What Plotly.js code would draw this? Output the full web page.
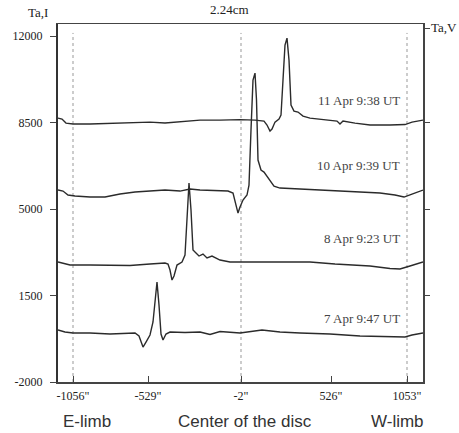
<!DOCTYPE html>
<html><head><meta charset="utf-8">
<script src="https://cdn.plot.ly/plotly-3.0.1.min.js"></script>
<style>html,body{margin:0;padding:0;background:#fff}</style>
</head><body><div id="chart" style="width:459px;height:433px"></div>
<script>
// scan position (arbitrary scan units) for each sample
const x11 = [0,4,8,15,32,52,72,92,107,122,142,162,182,197,206,209,212,214,217,221,223,225,227,229,231,233,236,240,245,252,262,272,279,282,285,297,312,332,347,354,365];
const ta11 = [8682,8641,8480,8440,8440,8460,8480,8520,8480,8540,8600,8600,8620,8600,8560,8400,8155,8236,8520,8640,8800,10220,11640,11920,11030,9210,8965,8925,8760,8680,8640,8600,8560,8440,8560,8480,8400,8400,8420,8520,8600];
const x10 = [0,5,10,17,32,47,62,77,92,107,122,132,142,157,170,175,178,180,182,185,189,191,193,195,197,198.5,200,203,206,209,212,216,222,242,262,282,302,322,337,346,354,365];
const ta10 = [5769,5728,5567,5526,5486,5486,5607,5688,5728,5769,5728,5809,5769,5749,5728,5648,5162,4838,5081,5364,5567,5971,8197,10220,10504,9411,6983,6578,6497,6335,6133,5931,5850,5809,5769,5749,5708,5648,5567,5486,5607,5769];
const x8 = [0,5,12,32,52,72,92,107,110,112,114,116,119,124,127,129,131,133,135,138,141,145,149,154,162,172,192,222,252,277,292,312,332,342,352,365];
const ta8 = [2856,2815,2734,2734,2734,2714,2775,2815,2775,2532,2127,2289,2734,2856,3139,4758,6053,4960,3341,3220,3099,3180,3018,3099,2937,2856,2856,2856,2856,2775,2734,2694,2593,2573,2694,2856];
const x7 = [0,7,15,32,52,67,77,81,85,88,92,95,97,99,101,103,105,108,112,127,142,152,162,182,204,222,242,272,302,332,347,354,365];
const ta7 = [104,23,-18,-18,-58,-18,-18,-139,-584,-382,-99,428,1318,2046,1116,-58,-301,-58,23,3,23,-78,43,-18,104,23,-18,-58,-139,-179,-179,-99,-18];

const scanLabels = ['11 Apr 9:38 UT','10 Apr 9:39 UT','8 Apr 9:23 UT','7 Apr 9:47 UT'];
const labelTa = [9410, 6780, 3827, 589];
const labelX = 344;

const tickPos = [15, 90, 183, 273, 349];
const tickText = ['-1056"', '-529"', '-2"', '526"', '1053"'];
const limbPos = [15, 183, 349];
const yTicks = [12000, 8500, 5000, 1500, -2000];
const yTicksRight = [12320, 8500, 5000, 1500];
const yRange = [-2000, 12490];
const xRange = [0, 365];

const lineStyle = {color:'#2b2b2b', width:1.4};
const traces = [[x11,ta11],[x10,ta10],[x8,ta8],[x7,ta7]].map(([x,y]) => ({
  x:x, y:y, type:'scatter', mode:'lines', line:lineStyle, hoverinfo:'skip', showlegend:false
}));
// invisible trace on right axis
traces.push({x:[xRange[0]], y:[yRange[0]], yaxis:'y2', mode:'markers', marker:{opacity:0}, showlegend:false, hoverinfo:'skip'});

const serifFam = 'Liberation Serif, Times New Roman, serif';
const tickFont = {family:serifFam, size:12, color:'#222'};
const topFont = {family:serifFam, size:13, color:'#222'};
const sans = {family:'Liberation Sans, Arial, sans-serif', size:17, color:'#333'};

const shapes = limbPos.map(p => ({type:'line', xref:'x', yref:'paper', x0:p, x1:p, y0:0, y1:0.975,
  line:{color:'#999', width:1, dash:'dot'}, layer:'below'}));

const annotations = scanLabels.map((t,i) => ({x:labelX, y:labelTa[i], xref:'x', yref:'y', text:t,
  showarrow:false, xanchor:'right', yanchor:'middle', font:{family:serifFam, size:13, color:'#444'}}));
annotations.push(
  {xref:'paper', yref:'paper', x:-0.055, y:1.031, text:'Ta,I', showarrow:false, font:topFont, xanchor:'center', yanchor:'middle'},
  {xref:'paper', yref:'paper', x:0.471, y:1.040, text:'2.24cm', showarrow:false, font:topFont, xanchor:'center', yanchor:'middle'},
  {xref:'paper', yref:'paper', x:1.057, y:0.99, text:'Ta,V', showarrow:false, font:topFont, xanchor:'center', yanchor:'middle'},
  {xref:'paper', yref:'paper', x:0.079, y:-0.109, text:'E-limb', showarrow:false, font:sans, xanchor:'center', yanchor:'middle'},
  {xref:'paper', yref:'paper', x:0.512, y:-0.109, text:'Center of the disc', showarrow:false, font:sans, xanchor:'center', yanchor:'middle'},
  {xref:'paper', yref:'paper', x:0.929, y:-0.109, text:'W-limb', showarrow:false, font:sans, xanchor:'center', yanchor:'middle'}
);

const layout = {
  width:459, height:433,
  margin:{l:58, r:36, t:24, b:51, pad:0},
  paper_bgcolor:'#fff', plot_bgcolor:'#fff',
  showlegend:false,
  xaxis:{range:xRange, tickmode:'array', tickvals:tickPos, ticktext:tickText, ticks:'inside', ticklen:6,
    tickcolor:'#444', showgrid:false, zeroline:false, showline:true, mirror:true, linecolor:'#444', linewidth:1.5,
    tickfont:tickFont, ticklabelstandoff:2},
  yaxis:{range:yRange, tickmode:'array', tickvals:yTicks, ticktext:yTicks.map(String), ticks:'outside', ticklen:6,
    tickcolor:'#444', showgrid:false, zeroline:false, showline:true, linecolor:'#333', linewidth:2, tickfont:tickFont,
    ticklabelstandoff:5},
  yaxis2:{range:yRange, overlaying:'y', side:'right', tickmode:'array', tickvals:yTicksRight, ticks:'outside', ticklen:5,
    tickcolor:'#444', showticklabels:false, showgrid:false, zeroline:false, showline:true, linecolor:'#444', linewidth:1.5},
  shapes:shapes, annotations:annotations
};
Plotly.newPlot('chart', traces, layout, {staticPlot:true, displayModeBar:false});
</script></body></html>
